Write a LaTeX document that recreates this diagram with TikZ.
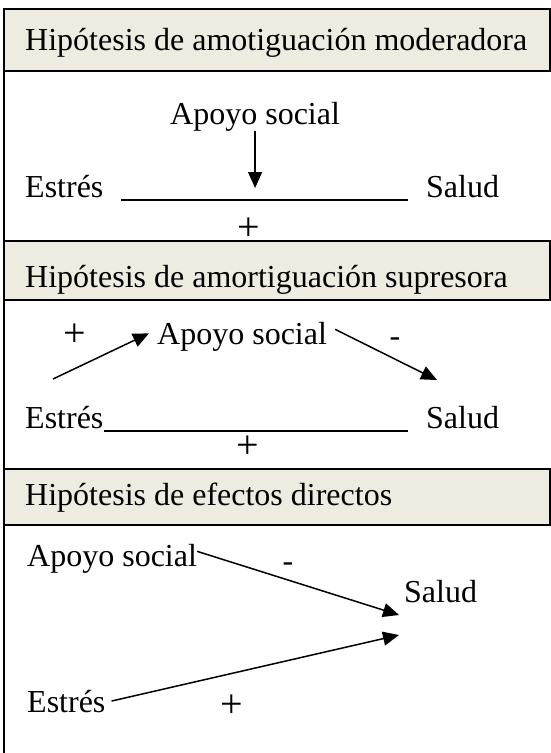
\documentclass[tikz,border=0pt]{standalone}
\usepackage{fontspec}
\setmainfont{Liberation Serif}
\usepackage{tikz}
\usetikzlibrary{positioning}
\usetikzlibrary{arrows.meta}
\definecolor{headfill}{HTML}{EEECE1}

\begin{document}
\begin{tikzpicture}[x=1pt,y=-1pt,>={Triangle[length=16pt,width=14pt]},
    txt/.style={anchor=base west,inner sep=0pt,font=\fontsize{32}{38}\selectfont},
    sign/.style={inner sep=0pt,font=\fontsize{40}{46}\selectfont},
    minus/.style={inner sep=0pt,anchor=base,font=\fontsize{32}{38}\selectfont},
    head/.style={draw,line width=2pt,fill=headfill},
    conn/.style={->,line width=1.5pt}]
  \useasboundingbox (0,0) rectangle (551,753);
  % table frame and header rows
  \draw[line width=2pt] (4,9) -- (4,753);
  \draw[head] (4,9)   rectangle (550,71);
  \draw[head] (4,241) rectangle (550,300);
  \draw[head] (4,469) rectangle (550,525);

  % moderadora
  \node[txt] (Head1)   at (25,50)   {Hipótesis de amotiguación moderadora};
  \node[txt] (Apoyo1)  at (170,124) {Apoyo social};
  \node[txt] (Estres1) at (25,197)  {Estrés};
  \node[txt] (Salud1)  at (426,197) {Salud};
  \node[sign] (Plus1)  at (249,229) {+};
  \coordinate (LineA1) at (121,200);
  \coordinate (LineB1) at (408,200);
  \coordinate (Tip1)   at (Apoyo1.south |- 0,188);
  \draw[line width=1.5pt] (LineA1) -- (LineB1);
  \draw[conn] (Apoyo1.south) -- (Tip1);

  % supresora
  \node[txt] (Head2)   at (25,287)  {Hipótesis de amortiguación supresora};
  \node[txt] (Apoyo2)  at (157,344) {Apoyo social};
  \node[txt] (Estres2) at (25,428)  {Estrés};
  \node[txt] (Salud2)  at (426,428) {Salud};
  \node[sign] (PlusA2) at (75,335)  {+};
  \node[minus] (Minus2) at (395,346) {-};
  \node[sign] (PlusB2) at (248,447) {+};
  \coordinate (From2)  at (53,379);
  \coordinate (Tip2)   at (437,380);
  \coordinate (LineB2) at (408,431);
  \draw[line width=1.5pt] (Estres2.base east) ++(0,3) -- (LineB2);
  \draw[conn] (From2) -- ([xshift=-8pt,yshift=3pt]Apoyo2.west);
  \draw[conn] ([xshift=8pt,yshift=7pt]Apoyo2.east) -- (Tip2);

  % efectos directos
  \node[txt] (Head3)   at (25,505)  {Hipótesis de efectos directos};
  \node[txt] (Apoyo3)  at (27,566)  {Apoyo social};
  \node[txt] (Salud3)  at (404,602) {Salud};
  \node[txt] (Estres3) at (27,712)  {Estrés};
  \node[minus] (Minus3) at (288,571) {-};
  \node[sign] (Plus3)  at (232,706) {+};
  \coordinate (Tip3a)  at (399,615);
  \coordinate (Tip3b)  at (399,635);
  \draw[conn] ([yshift=7pt]Apoyo3.east) -- (Tip3a);
  \draw[conn] ([xshift=6pt]Estres3.east) -- (Tip3b);
\end{tikzpicture}
\end{document}
